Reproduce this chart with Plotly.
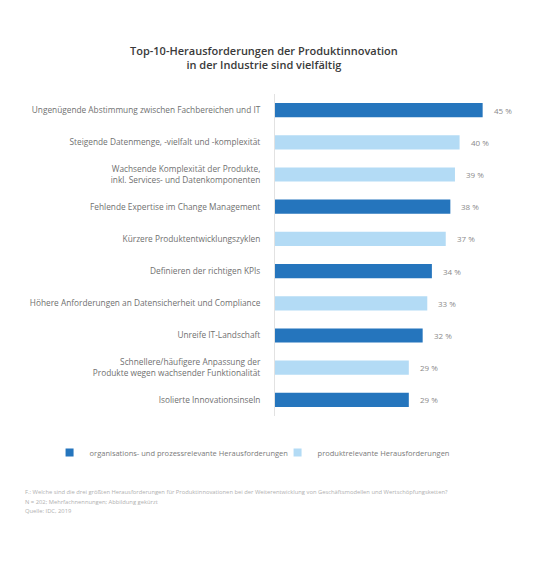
import plotly.graph_objects as go

categories = [
    "Ungenügende Abstimmung zwischen Fachbereichen und IT",
    "Steigende Datenmenge, -vielfalt und -komplexität",
    "Wachsende Komplexität der Produkte,<br>inkl. Services- und Datenkomponenten",
    "Fehlende Expertise im Change Management",
    "Kürzere Produktentwicklungszyklen",
    "Definieren der richtigen KPIs",
    "Höhere Anforderungen an Datensicherheit und Compliance",
    "Unreife IT-Landschaft",
    "Schnellere/häufigere Anpassung der<br>Produkte wegen wachsender Funktionalität",
    "Isolierte Innovationsinseln",
]
values = [45, 40, 39, 38, 37, 34, 33, 32, 29, 29]
groups = ["org", "prod", "prod", "org", "prod", "org", "prod", "org", "prod", "org"]

group_names = {
    "org": "organisations- und prozessrelevante Herausforderungen",
    "prod": "produktrelevante Herausforderungen",
}
group_colors = {"org": "#2575bd", "prod": "#b3dbf5"}

title_lines = [
    "Top-10-Herausforderungen der Produktinnovation",
    "in der Industrie sind vielfältig",
]
footnotes = [
    "F.: Welche sind die drei größten Herausforderungen für Produktinnovationen bei der Weiterentwicklung von Geschäftsmodellen und Wertschöpfungsketten?",
    "N = 202; Mehrfachnennungen; Abbildung gekürzt",
    "Quelle: IDC, 2019",
]

FONT = "Open Sans"

# layout geometry in pixels
L, T, R, B = 274.7, 94.2, 11, 564 - 416.4
W, H = 540 - L - R, 564 - T - B


def px_to_paper(px, py):
    return (px - L) / W, 1 - (py - T) / H


fig = go.Figure()

fig.add_trace(go.Bar(
    y=categories,
    x=values,
    orientation="h",
    marker=dict(color=[group_colors[g] for g in groups], line=dict(width=0)),
    width=0.44,
    showlegend=False,
    hoverinfo="x+y",
))

for g in ["org", "prod"]:
    fig.add_trace(go.Scatter(
        x=[None], y=[None], mode="markers",
        marker=dict(symbol="square", size=8, color=group_colors[g]),
        name=group_names[g],
    ))

for c, v in zip(categories, values):
    fig.add_annotation(
        x=v, y=c, xref="x", yref="y", text=f"{v} %",
        showarrow=False, xanchor="left", yanchor="middle", xshift=9,
        font=dict(family=FONT, size=8, color="#8a8a8a"),
    )

tx, ty = px_to_paper(264, 57.5)
fig.add_annotation(
    x=tx, y=ty, xref="paper", yref="paper",
    text="<br>".join(title_lines), showarrow=False,
    xanchor="center", yanchor="middle",
    font=dict(family=FONT, size=11, color="#3a3a3a", weight=600),
)

for i, line in enumerate(footnotes):
    fx, fy = px_to_paper(22, 492.5 + i * 9.5)
    fig.add_annotation(
        x=fx, y=fy, xref="paper", yref="paper",
        text=line, showarrow=False, xanchor="left", yanchor="middle",
        font=dict(family=FONT, size=5.8, color="#b0b0b0"),
    )

lx, ly = px_to_paper(49, 453)
fig.update_layout(
    width=540, height=564,
    margin=dict(l=L, r=R, t=T, b=B),
    paper_bgcolor="white", plot_bgcolor="white",
    font=dict(family=FONT, size=8.3, color="#707070"),
    xaxis=dict(range=[0, W / 4.62], visible=False, fixedrange=True),
    yaxis=dict(
        autorange="reversed", showgrid=False, zeroline=False,
        showline=True, linecolor="#e2e2e2", linewidth=1,
        ticks="", ticklabelstandoff=12,
        tickfont=dict(family=FONT, size=8.3, color="#707070"),
    ),
    legend=dict(
        orientation="h", x=lx, xanchor="left",
        y=ly, yanchor="middle",
        font=dict(family=FONT, size=7.5, color="#7a7a7a"),
        itemwidth=30, tracegroupgap=0,
        entrywidth=183, entrywidthmode="pixels",
    ),
    bargap=0.56,
)

fig.write_html(
    "out.html",
    config={"displayModeBar": False},
    post_script="document.body.style.margin='0';",
)
